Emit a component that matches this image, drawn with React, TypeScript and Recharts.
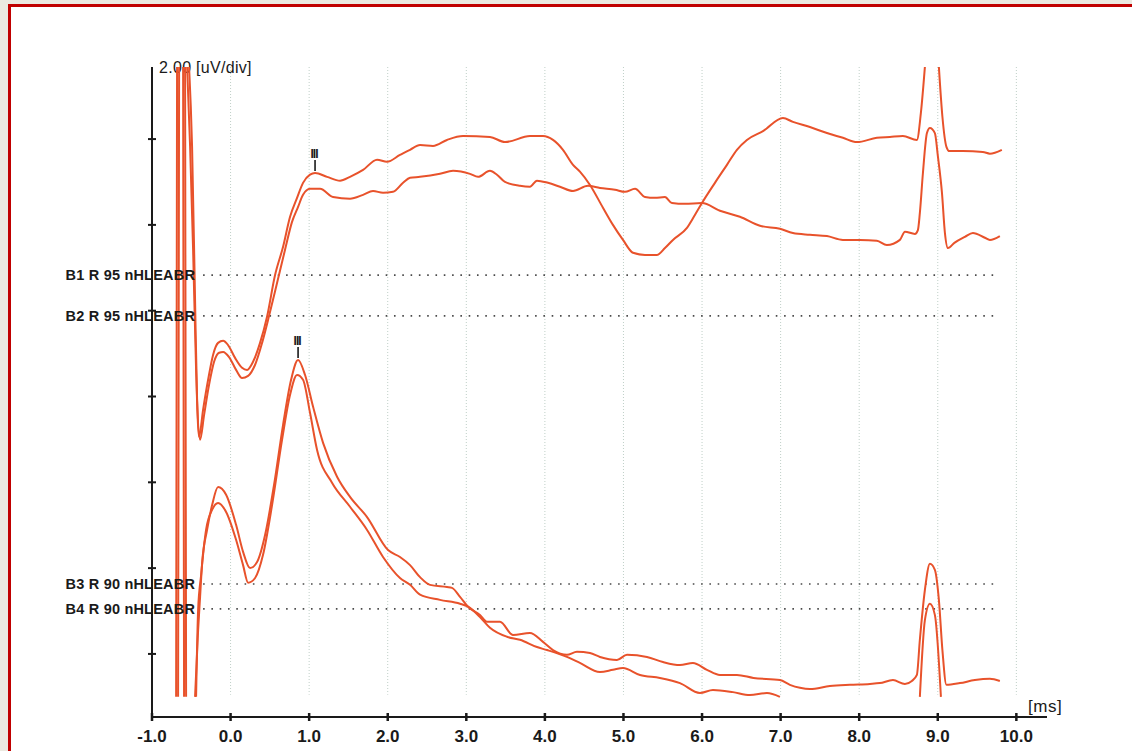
import React from "react";
import {
  Line,
  LineChart,
  ReferenceDot,
  ReferenceLine,
  XAxis,
  YAxis,
} from "recharts";

// time axis (ms) and amplitude scale (uV, 2.00 uV/div)
const msTicks = [-1, 0, 1, 2, 3, 4, 5, 6, 7, 8, 9, 10];
const uvTicks = [0, 2, 4, 6, 8, 10, 12];
const msDomain: [number, number] = [-1, 10.39];
const uvDomain: [number, number] = [-1.47, 13.68];

// channel labels and their baseline level (uV on the shared axis)
const channelNames = ["B1 R 95 nHLEABR", "B2 R 95 nHLEABR", "B3 R 90 nHLEABR", "B4 R 90 nHLEABR"];
const channelBaselines = [8.83, 7.88, 1.63, 1.05];

// [time ms, amplitude uV]; null breaks the trace where it leaves the screen
type Sample = [number, number | null];

const b1Trace: Sample[] = [
  [-0.553, 13.68], [-0.515, 11.82], [-0.477, 9.42], [-0.439, 6.62], [-0.401, 5.06],
  [-0.35, 5.69], [-0.286, 6.39], [-0.223, 6.97], [-0.159, 7.25], [-0.095, 7.3],
  [-0.032, 7.2], [0.057, 6.9], [0.146, 6.67], [0.21, 6.62], [0.286, 6.81],
  [0.375, 7.25], [0.464, 7.86], [0.566, 8.83], [0.668, 9.49], [0.757, 10.19],
  [0.846, 10.63], [0.922, 10.98], [1.011, 11.17], [1.075, 11.21], [1.228, 11.12],
  [1.393, 11.03], [1.52, 11.12], [1.686, 11.28], [1.864, 11.52], [1.991, 11.47],
  [2.156, 11.63], [2.284, 11.75], [2.411, 11.86], [2.576, 11.84], [2.754, 11.98],
  [2.958, 12.07], [3.301, 12.05], [3.492, 11.93], [3.81, 12.07], [3.976, 12.07],
  [4.103, 11.98], [4.23, 11.75], [4.358, 11.4], [4.446, 11.24], [4.574, 10.93],
  [4.739, 10.4], [4.866, 10.0], [4.994, 9.65], [5.121, 9.35], [5.274, 9.3],
  [5.426, 9.3], [5.528, 9.46], [5.63, 9.65], [5.808, 9.93], [5.909, 10.23],
  [5.999, 10.51], [6.164, 10.98], [6.317, 11.4], [6.444, 11.75], [6.571, 11.98],
  [6.781, 12.19], [7.029, 12.49], [7.157, 12.4], [7.373, 12.28], [7.589, 12.14],
  [7.793, 12.03], [7.971, 11.93], [8.225, 12.03], [8.391, 12.05], [8.556, 12.07],
  [8.734, 11.98], [8.785, 12.61], [8.836, 13.68], [8.93, null], [9.014, 13.68],
  [9.059, 12.52], [9.11, 11.82], [9.148, 11.72], [9.319, 11.72], [9.574, 11.7],
  [9.663, 11.66], [9.815, 11.75],
];

const b2Trace: Sample[] = [
  [-0.528, 13.68], [-0.49, 11.82], [-0.452, 8.25], [-0.426, 5.92], [-0.388, 4.99],
  [-0.337, 5.57], [-0.274, 6.27], [-0.21, 6.81], [-0.146, 7.02], [-0.095, 7.04],
  [-0.019, 6.92], [0.07, 6.62], [0.146, 6.43], [0.223, 6.48], [0.312, 6.74],
  [0.401, 7.25], [0.49, 7.88], [0.592, 8.65], [0.693, 9.42], [0.782, 10.07],
  [0.859, 10.42], [0.922, 10.7], [1.011, 10.84], [1.139, 10.84], [1.304, 10.65],
  [1.52, 10.61], [1.686, 10.7], [1.813, 10.79], [1.94, 10.75], [2.067, 10.77],
  [2.195, 10.98], [2.284, 11.1], [2.411, 11.12], [2.665, 11.19], [2.831, 11.26],
  [3.047, 11.19], [3.149, 11.12], [3.301, 11.26], [3.39, 11.17], [3.492, 11.0],
  [3.683, 10.91], [3.81, 10.89], [3.899, 11.03], [4.039, 10.98], [4.192, 10.89],
  [4.358, 10.79], [4.548, 10.91], [4.701, 10.86], [4.892, 10.82], [5.019, 10.77],
  [5.147, 10.84], [5.274, 10.65], [5.401, 10.63], [5.528, 10.65], [5.617, 10.51],
  [5.782, 10.49], [5.999, 10.51], [6.228, 10.33], [6.482, 10.19], [6.737, 9.98],
  [6.991, 9.91], [7.157, 9.81], [7.373, 9.77], [7.589, 9.74], [7.793, 9.65],
  [8.009, 9.65], [8.225, 9.63], [8.352, 9.53], [8.518, 9.65], [8.582, 9.84],
  [8.709, 9.79], [8.747, 9.88], [8.772, 10.28], [8.811, 11.21], [8.862, 12.14],
  [8.9, 12.26], [8.963, 12.14], [9.002, 11.59], [9.053, 10.75], [9.091, 9.81],
  [9.129, 9.46], [9.211, 9.58], [9.345, 9.72], [9.447, 9.81], [9.599, 9.7],
  [9.663, 9.65], [9.79, 9.74],
];

const b3Trace: Sample[] = [
  [-0.693, -1.0], [-0.681, 13.68], [-0.64, null], [-0.604, 13.68], [-0.592, -1.0],
  [-0.52, null], [-0.452, -1.0], [-0.413, 0.56], [-0.388, 1.33], [-0.362, 2.12],
  [-0.299, 2.89], [-0.235, 3.47], [-0.159, 3.89], [-0.057, 3.71], [0.07, 3.01],
  [0.159, 2.38], [0.248, 2.0], [0.337, 2.14], [0.439, 2.77], [0.553, 3.94],
  [0.668, 5.34], [0.77, 6.39], [0.859, 6.85], [0.948, 6.5], [1.05, 5.76],
  [1.177, 4.92], [1.355, 4.13], [1.52, 3.66], [1.737, 3.19], [2.004, 2.42],
  [2.156, 2.26], [2.284, 2.07], [2.411, 1.79], [2.538, 1.61], [2.754, 1.56],
  [2.818, 1.54], [2.92, 1.33], [3.022, 1.1], [3.174, 0.91], [3.263, 0.75],
  [3.429, 0.75], [3.594, 0.44], [3.81, 0.49], [3.976, 0.28], [4.103, 0.09],
  [4.281, -0.02], [4.408, 0.05], [4.574, 0.02], [4.701, -0.07], [4.917, -0.14],
  [5.045, -0.02], [5.299, -0.07], [5.503, -0.19], [5.719, -0.26], [5.884, -0.21],
  [6.062, -0.37], [6.228, -0.49], [6.444, -0.49], [6.654, -0.56], [6.991, -0.61],
  [7.118, -0.72], [7.246, -0.79], [7.373, -0.82], [7.627, -0.75], [7.882, -0.72],
  [8.136, -0.7], [8.263, -0.68], [8.43, -0.61], [8.582, -0.7], [8.67, -0.63],
  [8.734, -0.49], [8.772, 0.33], [8.836, 1.49], [8.9, 2.1], [8.963, 1.96],
  [9.014, 1.26], [9.059, 0.09], [9.11, -0.72], [9.282, -0.68], [9.472, -0.61],
  [9.663, -0.58], [9.79, -0.63],
];

const b4Trace: Sample[] = [
  [-0.668, -1.0], [-0.655, 13.68], [-0.62, null], [-0.579, 13.68], [-0.566, -1.0],
  [-0.5, null], [-0.439, -1.0], [-0.413, 1.03], [-0.375, 1.84], [-0.312, 2.89],
  [-0.235, 3.36], [-0.159, 3.52], [-0.057, 3.31], [0.07, 2.66], [0.159, 2.07],
  [0.223, 1.66], [0.312, 1.77], [0.413, 2.31], [0.528, 3.47], [0.655, 4.99],
  [0.757, 6.04], [0.846, 6.5], [0.922, 6.39], [1.011, 5.62], [1.1, 4.76],
  [1.291, 3.99], [1.52, 3.43], [1.737, 2.89], [1.94, 2.26], [2.156, 1.77],
  [2.284, 1.61], [2.411, 1.38], [2.665, 1.26], [2.92, 1.17], [3.022, 1.1],
  [3.174, 0.86], [3.301, 0.61], [3.518, 0.4], [3.683, 0.33], [3.899, 0.16],
  [4.027, 0.09], [4.281, -0.07], [4.446, -0.21], [4.701, -0.42], [4.866, -0.37],
  [4.994, -0.33], [5.21, -0.49], [5.464, -0.56], [5.719, -0.68], [5.973, -0.91],
  [6.139, -0.84], [6.393, -0.89], [6.609, -0.96], [6.826, -0.91], [6.991, -1.0],
  [7.5, null], [8.772, -1.0], [8.836, 0.79], [8.9, 1.17], [8.963, 0.91],
  [9.04, -1.0],
];

// wave III peak labels
const waveLabels = ["III", "III"];
const waveTimes = [1.075, 0.859];
const waveAmps = [11.21, 6.85];

const traces = [b1Trace, b2Trace, b3Trace, b4Trace];
const toPoints = (trace: Sample[]) => trace.map(([t, v]) => ({ t, v }));

const TRACE = "#e8522b";
const INK = "#1a1a1a";
const DOTS_FROM = -0.35;
const DOTS_TO = 9.79;
const GRID_BOTTOM = -0.95;

const MsTick = (props: any) => {
  const { x, y, payload } = props;
  return (
    <g>
      <line x1={x} x2={x} y1={y - 4} y2={y + 4} stroke={INK} strokeWidth={2.5} />
      <text x={x} y={y + 25} textAnchor="middle" fontSize={17} fontWeight="bold" fill={INK}>
        {Number(payload.value).toFixed(1)}
      </text>
    </g>
  );
};

const UvTick = (props: any) => {
  const { x, y } = props;
  return <line x1={x - 4} x2={x + 4} y1={y} y2={y} stroke={INK} strokeWidth={2} />;
};

const WaveMark = (label: string) => (props: any) => {
  const { cx, cy } = props;
  return (
    <g>
      <line x1={cx} x2={cx} y1={cy - 2} y2={cy - 13} stroke={INK} strokeWidth={1.6} />
      <text
        x={cx - 1}
        y={cy - 15}
        textAnchor="middle"
        fontSize={12}
        fontWeight="bold"
        letterSpacing={-1}
        fill={INK}
      >
        {label}
      </text>
    </g>
  );
};

export default function App() {
  return (
    <div
      style={{
        position: "relative",
        width: 1132,
        height: 751,
        overflow: "hidden",
        background: "#ebe9e0",
        fontFamily: '"Liberation Sans", Arial, sans-serif',
      }}
    >
      <style>{"body{margin:0}"}</style>
      <div
        style={{
          position: "absolute",
          left: 8,
          top: 4,
          width: 1140,
          height: 760,
          background: "#fff",
          borderTop: "3px solid #c00000",
          borderLeft: "3px solid #c00000",
        }}
      />
      <div
        style={{
          position: "absolute",
          left: 159,
          top: 60,
          fontSize: 16,
          letterSpacing: 0.3,
          lineHeight: "16px",
          color: INK,
        }}
      >
        2.00 [uV/div]
      </div>
      <div
        style={{
          position: "absolute",
          left: 1028,
          top: 699,
          fontSize: 17,
          letterSpacing: 0.5,
          lineHeight: "16px",
          color: INK,
        }}
      >
        [ms]
      </div>
      <div style={{ position: "absolute", left: 0, top: 0 }}>
        <LineChart width={1132} height={751} margin={{ top: 67, right: 85, bottom: 4, left: 92 }}>
          {/* faint dotted division lines, one per ms */}
          {msTicks
            .filter((t) => t > msDomain[0])
            .map((t) => (
              <ReferenceLine
                key={"grid" + t}
                segment={[
                  { x: t, y: uvDomain[1] },
                  { x: t, y: GRID_BOTTOM },
                ]}
                stroke="#bfcfc7"
                strokeWidth={1}
                strokeDasharray="1 2"
              />
            ))}
          <XAxis
            type="number"
            dataKey="t"
            domain={msDomain}
            allowDataOverflow
            ticks={msTicks}
            interval={0}
            height={30}
            tickSize={0}
            tickMargin={0}
            tickLine={false}
            axisLine={{ stroke: INK, strokeWidth: 2 }}
            tick={(p: any) => <MsTick {...p} />}
          />
          <YAxis
            type="number"
            domain={uvDomain}
            allowDataOverflow
            ticks={uvTicks}
            interval={0}
            width={60}
            tickSize={0}
            tickMargin={0}
            tickLine={false}
            axisLine={{ stroke: INK, strokeWidth: 2 }}
            tick={(p: any) => <UvTick {...p} />}
          />
          {channelNames.map((name, i) => (
            <ReferenceLine
              key={name + i}
              segment={[
                { x: DOTS_FROM, y: channelBaselines[i] },
                { x: DOTS_TO, y: channelBaselines[i] },
              ]}
              stroke="#4a4a4a"
              strokeWidth={1.6}
              strokeDasharray="1.6 6.7"
              ifOverflow="visible"
              label={{
                value: name,
                position: "left",
                offset: 8,
                fill: INK,
                fontSize: 14.5,
                fontWeight: "bold",
                letterSpacing: 0.2,
              }}
            />
          ))}
          {traces.map((trace, i) => (
            <Line
              key={channelNames[i]}
              data={toPoints(trace)}
              dataKey="v"
              type="monotone"
              stroke={TRACE}
              strokeWidth={2}
              dot={false}
              activeDot={false}
              connectNulls={false}
              isAnimationActive={false}
            />
          ))}
          {waveLabels.map((label, i) => (
            <ReferenceDot
              key={"wave" + i}
              x={waveTimes[i]}
              y={waveAmps[i]}
              r={0}
              ifOverflow="visible"
              shape={WaveMark(label)}
            />
          ))}
        </LineChart>
      </div>
    </div>
  );
}
